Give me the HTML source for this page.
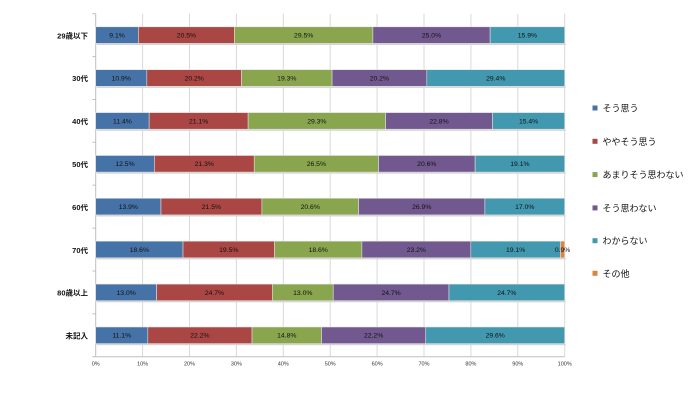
<!DOCTYPE html>
<html><head><meta charset="utf-8"><style>
html,body{margin:0;padding:0;background:#fff;}
svg{display:block;}
text{font-family:"Liberation Sans","Noto Sans CJK JP",sans-serif;}
</style></head><body>
<svg width="700" height="412" viewBox="0 0 700 412" xmlns="http://www.w3.org/2000/svg">
<rect width="700" height="412" fill="#fff"/>
<g stroke="#d9d9d9" stroke-width="1">
<line x1="142.6" y1="13.7" x2="142.6" y2="356.7"/>
<line x1="189.5" y1="13.7" x2="189.5" y2="356.7"/>
<line x1="236.4" y1="13.7" x2="236.4" y2="356.7"/>
<line x1="283.3" y1="13.7" x2="283.3" y2="356.7"/>
<line x1="330.2" y1="13.7" x2="330.2" y2="356.7"/>
<line x1="377.1" y1="13.7" x2="377.1" y2="356.7"/>
<line x1="424" y1="13.7" x2="424" y2="356.7"/>
<line x1="470.9" y1="13.7" x2="470.9" y2="356.7"/>
<line x1="517.8" y1="13.7" x2="517.8" y2="356.7"/>
<line x1="564.7" y1="13.7" x2="564.7" y2="356.7"/>
</g>
<g stroke="#bfbfbf" stroke-width="1">
<line x1="95.7" y1="13.7" x2="95.7" y2="356.7"/>
<line x1="95.7" y1="356.7" x2="564.7" y2="356.7"/>
<line x1="92.5" y1="13.7" x2="95.7" y2="13.7"/>
<line x1="92.5" y1="56.6" x2="95.7" y2="56.6"/>
<line x1="92.5" y1="99.5" x2="95.7" y2="99.5"/>
<line x1="92.5" y1="142.3" x2="95.7" y2="142.3"/>
<line x1="92.5" y1="185.2" x2="95.7" y2="185.2"/>
<line x1="92.5" y1="228.1" x2="95.7" y2="228.1"/>
<line x1="92.5" y1="271" x2="95.7" y2="271"/>
<line x1="92.5" y1="313.8" x2="95.7" y2="313.8"/>
<line x1="92.5" y1="356.7" x2="95.7" y2="356.7"/>
</g>

<g stroke="#e0e0e0" stroke-width="0.6">
<g transform="translate(0,26.8)">
<rect x="96.7" y="16.6" width="469" height="1.6" fill="#d4d4d4" stroke="none"/>
<rect x="95.7" y="0" width="42.68" height="16.6" fill="#4572A7"/>
<rect x="138.38" y="0" width="96.15" height="16.6" fill="#AA4643"/>
<rect x="234.52" y="0" width="138.36" height="16.6" fill="#89A54E"/>
<rect x="372.88" y="0" width="117.25" height="16.6" fill="#71588F"/>
<rect x="490.13" y="0" width="74.57" height="16.6" fill="#4198AF"/>
</g>
<g transform="translate(0,69.7)">
<rect x="96.7" y="16.6" width="469" height="1.6" fill="#d4d4d4" stroke="none"/>
<rect x="95.7" y="0" width="51.12" height="16.6" fill="#4572A7"/>
<rect x="146.82" y="0" width="94.74" height="16.6" fill="#AA4643"/>
<rect x="241.56" y="0" width="90.52" height="16.6" fill="#89A54E"/>
<rect x="332.08" y="0" width="94.73" height="16.6" fill="#71588F"/>
<rect x="426.81" y="0" width="137.89" height="16.6" fill="#4198AF"/>
</g>
<g transform="translate(0,112.6)">
<rect x="96.7" y="16.6" width="469" height="1.6" fill="#d4d4d4" stroke="none"/>
<rect x="95.7" y="0" width="53.47" height="16.6" fill="#4572A7"/>
<rect x="149.17" y="0" width="98.96" height="16.6" fill="#AA4643"/>
<rect x="248.13" y="0" width="137.41" height="16.6" fill="#89A54E"/>
<rect x="385.54" y="0" width="106.93" height="16.6" fill="#71588F"/>
<rect x="492.47" y="0" width="72.23" height="16.6" fill="#4198AF"/>
</g>
<g transform="translate(0,155.5)">
<rect x="96.7" y="16.6" width="469" height="1.6" fill="#d4d4d4" stroke="none"/>
<rect x="95.7" y="0" width="58.63" height="16.6" fill="#4572A7"/>
<rect x="154.33" y="0" width="99.89" height="16.6" fill="#AA4643"/>
<rect x="254.22" y="0" width="124.29" height="16.6" fill="#89A54E"/>
<rect x="378.51" y="0" width="96.61" height="16.6" fill="#71588F"/>
<rect x="475.12" y="0" width="89.58" height="16.6" fill="#4198AF"/>
</g>
<g transform="translate(0,198.3)">
<rect x="96.7" y="16.6" width="469" height="1.6" fill="#d4d4d4" stroke="none"/>
<rect x="95.7" y="0" width="65.26" height="16.6" fill="#4572A7"/>
<rect x="160.96" y="0" width="100.93" height="16.6" fill="#AA4643"/>
<rect x="261.89" y="0" width="96.71" height="16.6" fill="#89A54E"/>
<rect x="358.6" y="0" width="126.29" height="16.6" fill="#71588F"/>
<rect x="484.89" y="0" width="79.81" height="16.6" fill="#4198AF"/>
</g>
<g transform="translate(0,241.2)">
<rect x="96.7" y="16.6" width="469" height="1.6" fill="#d4d4d4" stroke="none"/>
<rect x="95.7" y="0" width="87.32" height="16.6" fill="#4572A7"/>
<rect x="183.02" y="0" width="91.55" height="16.6" fill="#AA4643"/>
<rect x="274.57" y="0" width="87.32" height="16.6" fill="#89A54E"/>
<rect x="361.89" y="0" width="108.92" height="16.6" fill="#71588F"/>
<rect x="470.81" y="0" width="89.67" height="16.6" fill="#4198AF"/>
<rect x="560.48" y="0" width="4.22" height="16.6" fill="#DB843D"/>
</g>
<g transform="translate(0,284.1)">
<rect x="96.7" y="16.6" width="469" height="1.6" fill="#d4d4d4" stroke="none"/>
<rect x="95.7" y="0" width="60.91" height="16.6" fill="#4572A7"/>
<rect x="156.61" y="0" width="115.73" height="16.6" fill="#AA4643"/>
<rect x="272.34" y="0" width="60.9" height="16.6" fill="#89A54E"/>
<rect x="333.24" y="0" width="115.73" height="16.6" fill="#71588F"/>
<rect x="448.97" y="0" width="115.73" height="16.6" fill="#4198AF"/>
</g>
<g transform="translate(0,327)">
<rect x="96.7" y="16.6" width="469" height="1.6" fill="#d4d4d4" stroke="none"/>
<rect x="95.7" y="0" width="52.11" height="16.6" fill="#4572A7"/>
<rect x="147.81" y="0" width="104.22" height="16.6" fill="#AA4643"/>
<rect x="252.03" y="0" width="69.49" height="16.6" fill="#89A54E"/>
<rect x="321.52" y="0" width="104.22" height="16.6" fill="#71588F"/>
<rect x="425.74" y="0" width="138.96" height="16.6" fill="#4198AF"/>
</g>
</g>

<g font-size="6.8" fill="#111" text-anchor="middle">
<text x="117.04" y="37.5">9.1%</text><text x="186.45" y="37.5">20.5%</text><text x="303.7" y="37.5">29.5%</text><text x="431.5" y="37.5">25.0%</text><text x="527.4" y="37.5">15.9%</text>
<text x="121.26" y="80.4">10.9%</text><text x="194.19" y="80.4">20.2%</text><text x="286.82" y="80.4">19.3%</text><text x="379.45" y="80.4">20.2%</text><text x="495.76" y="80.4">29.4%</text>
<text x="122.44" y="123.3">11.4%</text><text x="198.65" y="123.3">21.1%</text><text x="316.84" y="123.3">29.3%</text><text x="439.0" y="123.3">22.8%</text><text x="528.59" y="123.3">15.4%</text>
<text x="125.0" y="166.2">12.5%</text><text x="204.28" y="166.2">21.3%</text><text x="316.37" y="166.2">26.5%</text><text x="426.82" y="166.2">20.6%</text><text x="519.91" y="166.2">19.1%</text>
<text x="128.33" y="209">13.9%</text><text x="211.43" y="209">21.5%</text><text x="310.25" y="209">20.6%</text><text x="421.75" y="209">26.9%</text><text x="524.8" y="209">17.0%</text>
<text x="139.36" y="251.9">18.6%</text><text x="228.8" y="251.9">19.5%</text><text x="318.23" y="251.9">18.6%</text><text x="416.35" y="251.9">23.2%</text><text x="515.65" y="251.9">19.1%</text><text x="562.59" y="251.9">0.9%</text>
<text x="126.16" y="294.8">13.0%</text><text x="214.48" y="294.8">24.7%</text><text x="302.79" y="294.8">13.0%</text><text x="391.1" y="294.8">24.7%</text><text x="506.84" y="294.8">24.7%</text>
<text x="121.76" y="337.7">11.1%</text><text x="199.92" y="337.7">22.2%</text><text x="286.78" y="337.7">14.8%</text><text x="373.63" y="337.7">22.2%</text><text x="495.22" y="337.7">29.6%</text>
</g>

<g font-size="5.5" fill="#333" text-anchor="middle">
<text x="95.7" y="365.5">0%</text>
<text x="142.6" y="365.5">10%</text>
<text x="189.5" y="365.5">20%</text>
<text x="236.4" y="365.5">30%</text>
<text x="283.3" y="365.5">40%</text>
<text x="330.2" y="365.5">50%</text>
<text x="377.1" y="365.5">60%</text>
<text x="424" y="365.5">70%</text>
<text x="470.9" y="365.5">80%</text>
<text x="517.8" y="365.5">90%</text>
<text x="564.7" y="365.5">100%</text>
</g>
<g font-size="7.5" font-weight="bold" fill="#111" text-anchor="end">
<text x="88" y="38.3">29歳以下</text>
<text x="88" y="81.2">30代</text>
<text x="88" y="124.1">40代</text>
<text x="88" y="167">50代</text>
<text x="88" y="209.9">60代</text>
<text x="88" y="252.8">70代</text>
<text x="88" y="295.7">80歳以上</text>
<text x="88" y="338.6">未記入</text>
</g>
<g font-size="9" fill="#111">
<rect x="592.5" y="105.5" width="5" height="5" fill="#4572A7"/><text x="602.5" y="111.5">そう思う</text>
<rect x="592.5" y="138.8" width="5" height="5" fill="#AA4643"/><text x="602.5" y="144.8">ややそう思う</text>
<rect x="592.5" y="172.1" width="5" height="5" fill="#89A54E"/><text x="602.5" y="178.1">あまりそう思わない</text>
<rect x="592.5" y="205.4" width="5" height="5" fill="#71588F"/><text x="602.5" y="211.4">そう思わない</text>
<rect x="592.5" y="238.2" width="5" height="5" fill="#4198AF"/><text x="602.5" y="244.2">わからない</text>
<rect x="592.5" y="270.8" width="5" height="5" fill="#DB843D"/><text x="602.5" y="276.8">その他</text>
</g>
</svg>
</body></html>
